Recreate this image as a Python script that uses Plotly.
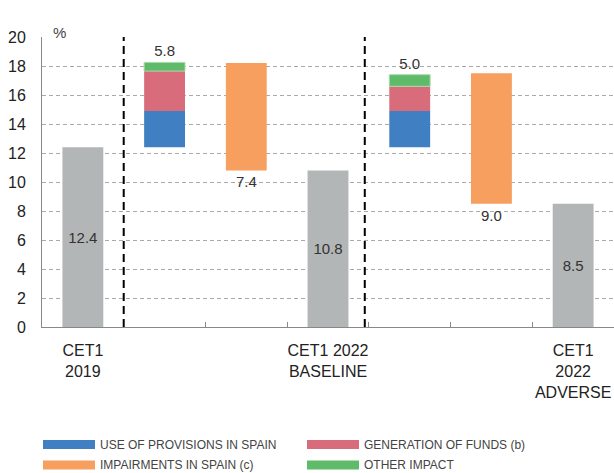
import plotly.graph_objects as go

# ---- data ----
categories = ["CET1<br>2019", " ", "  ", "CET1 2022<br>BASELINE", "   ", "    ", "CET1<br>2022<br>ADVERSE"]
cet1_start = 12.4
cet1_end = [10.8, 8.5]                 # baseline, adverse
use_of_provisions = [2.5, 2.5]
generation_of_funds = [2.75, 1.7]
other_impact = [0.6, 0.8]
gains_labels = ["5.8", "5.0"]
impairments = [7.4, 9.0]
impair_labels = ["7.4", "9.0"]
y_ticks = [0, 2, 4, 6, 8, 10, 12, 14, 16, 18, 20]

legend_names = ["USE OF PROVISIONS IN SPAIN", "GENERATION OF FUNDS (b)",
                "IMPAIRMENTS IN SPAIN (c)", "OTHER IMPACT"]

C_GRAY = "#b3b6b6"
C_BLUE = "#3f7fc2"
C_RED = "#d86c7a"
C_ORANGE = "#f79f5f"
C_GREEN = "#5fbb69"
TXT = "#333333"
FONT = "Liberation Sans, Arial, sans-serif"

W, H = 614, 473
ML, MR, MT, MB = 42, 0, 37, 146
PW, PH = W - ML - MR, H - MT - MB

def px(x):
    return (x - ML) / PW

def py(y):
    return (H - MB - y) / PH

fig = go.Figure()

gain_cats = [categories[1], categories[4]]
imp_cats = [categories[2], categories[5]]
end_cats = [categories[3], categories[6]]

# gray CET1 bars
fig.add_trace(go.Bar(
    x=[categories[0]] + end_cats,
    y=[cet1_start] + cet1_end,
    marker=dict(color=C_GRAY, line=dict(width=0)),
    text=[f"{v:.1f}" for v in [cet1_start] + cet1_end],
    textposition="inside", insidetextanchor="middle",
    textfont=dict(size=15, color=TXT, family=FONT),
    width=0.5, showlegend=False, hoverinfo="skip"))

# stacked gains
base_blue = [cet1_start, cet1_start]
base_red = [b + v for b, v in zip(base_blue, use_of_provisions)]
base_green = [b + v for b, v in zip(base_red, generation_of_funds)]
fig.add_trace(go.Bar(x=gain_cats, y=use_of_provisions, base=base_blue,
                     marker=dict(color=C_BLUE, line=dict(width=0)),
                     width=0.5, showlegend=False, hoverinfo="skip"))
fig.add_trace(go.Bar(x=gain_cats, y=generation_of_funds, base=base_red,
                     marker=dict(color=C_RED, line=dict(width=0)),
                     width=0.5, showlegend=False, hoverinfo="skip"))
fig.add_trace(go.Bar(x=gain_cats, y=other_impact, base=base_green,
                     marker=dict(color=C_GREEN, line=dict(width=1, color="#a9dbae")),
                     text=gains_labels, textposition="outside",
                     textfont=dict(size=15, color=TXT, family=FONT),
                     width=0.5, showlegend=False, hoverinfo="skip", cliponaxis=False))

# impairments (floating, from end value up)
fig.add_trace(go.Bar(x=imp_cats, y=impairments, base=cet1_end,
                     marker=dict(color=C_ORANGE, line=dict(width=0)),
                     width=0.5, showlegend=False, hoverinfo="skip"))

annotations = []
for c, b, lab in zip(imp_cats, cet1_end, impair_labels):
    annotations.append(dict(x=c, y=b, text=lab, showarrow=False, yanchor="top",
                            yshift=-1, font=dict(size=15, color=TXT, family=FONT)))

annotations.append(dict(x=px(51), y=py(22), xref="paper", yref="paper", text="%",
                        showarrow=False, font=dict(size=15, color="#444", family=FONT)))

# manual legend
shapes = []
legend_items = [
    (legend_names[0], C_BLUE, 43, 444.5),
    (legend_names[1], C_RED, 307, 444.5),
    (legend_names[2], C_ORANGE, 43, 465.0),
    (legend_names[3], C_GREEN, 307, 465.0),
]
for name, col, x0, yc in legend_items:
    shapes.append(dict(type="rect", xref="paper", yref="paper",
                       x0=px(x0), x1=px(x0 + 52), y0=py(yc - 4.5), y1=py(yc + 4.5),
                       fillcolor=col, line=dict(width=0)))
    annotations.append(dict(x=px(x0 + 55), y=py(yc), xref="paper", yref="paper",
                            text=name, showarrow=False, xanchor="left", yanchor="middle",
                            font=dict(size=12, color="#444", family=FONT)))

# vertical dashed separators
for xv in [0.5, 3.45]:
    shapes.append(dict(type="line", xref="x", yref="y", x0=xv, x1=xv, y0=0, y1=20,
                       line=dict(color="black", width=2, dash="8px,5px")))

fig.update_layout(
    template="none",
    width=W, height=H,
    margin=dict(l=ML, r=MR, t=MT, b=MB, autoexpand=False),
    plot_bgcolor="white", paper_bgcolor="white",
    barmode="overlay", bargap=0.5,
    font=dict(family=FONT, color=TXT),
    shapes=shapes, annotations=annotations,
    xaxis=dict(type="category", categoryorder="array", categoryarray=categories,
               range=[-0.5, 6.5], showgrid=False, showline=True, linecolor="#888",
               linewidth=1, ticks="inside", ticklen=5, tickcolor="#888",
               tickson="boundaries", tickangle=0, automargin=False,
               ticklabelstandoff=9,
               tickfont=dict(size=16, color="#222"), fixedrange=True),
    yaxis=dict(range=[0, 20], tickvals=y_ticks, showgrid=True, gridcolor="#aaaaaa",
               griddash="4px,3px", gridwidth=1, zeroline=False, showline=True,
               linecolor="#888", linewidth=1, ticks="", ticklabelstandoff=12,
               automargin=False,
               tickfont=dict(size=16, color="#222"), fixedrange=True),
)

fig.write_html(
    "out.html",
    config={"displayModeBar": False},
    post_script="document.body.style.margin='0';document.body.style.overflow='hidden';",
)
